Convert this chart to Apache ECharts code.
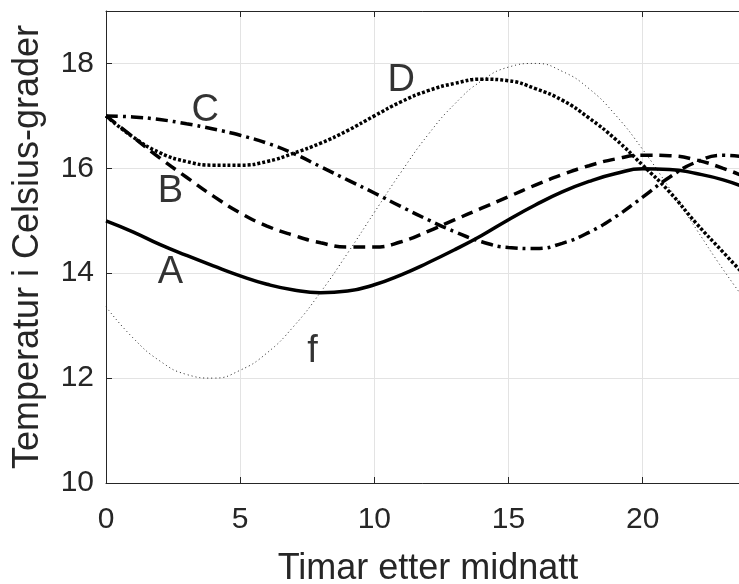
<!DOCTYPE html>
<html>
<head>
<meta charset="utf-8">
<script src="https://cdn.jsdelivr.net/npm/echarts@6/dist/echarts.min.js"></script>
<style>
html, body { margin: 0; padding: 0; background: #fff; }
#chart { width: 739px; height: 584px; }
</style>
</head>
<body>
<div id="chart"></div>
<script>
// timar etter midnatt
var timar = [0, 1, 2, 3, 4, 5, 6, 7, 8, 9, 10, 11, 12, 13, 14, 15, 16, 17, 18, 19, 20, 21, 22, 23, 24];
// temperaturkurver avlesne fraa figuren
var kurveA = [15.0, 14.79, 14.55, 14.34, 14.14, 13.95, 13.79, 13.68, 13.63, 13.66, 13.78, 13.97, 14.2, 14.45, 14.72, 15.02, 15.3, 15.55, 15.75, 15.9, 15.99, 15.98, 15.9, 15.78, 15.6];
var kurveB = [17.0, 16.6, 16.2, 15.83, 15.47, 15.15, 14.9, 14.72, 14.58, 14.5, 14.5, 14.6, 14.8, 15.02, 15.24, 15.46, 15.68, 15.88, 16.05, 16.18, 16.25, 16.24, 16.16, 16.0, 15.8];
var kurveC = [17.0, 16.98, 16.93, 16.85, 16.75, 16.63, 16.48, 16.28, 16.03, 15.78, 15.53, 15.27, 15.02, 14.79, 14.6, 14.49, 14.47, 14.57, 14.78, 15.08, 15.45, 15.83, 16.12, 16.25, 16.2];
var kurveD = [17.0, 16.6, 16.3, 16.13, 16.06, 16.06, 16.13, 16.29, 16.48, 16.72, 17.0, 17.27, 17.48, 17.62, 17.7, 17.67, 17.52, 17.3, 16.96, 16.55, 16.06, 15.55, 14.95, 14.4, 13.85];
var kurveF = [13.36, 12.77, 12.33, 12.07, 12.0, 12.15, 12.48, 12.99, 13.64, 14.38, 15.16, 15.93, 16.64, 17.23, 17.67, 17.93, 18.0, 17.85, 17.52, 17.01, 16.36, 15.62, 14.84, 14.07, 13.36];
// etiketter ved kurvene
var etiketter = [
  {name: 'A', value: [2.4, 14.02]},
  {name: 'B', value: [2.4, 15.55]},
  {name: 'C', value: [3.7, 17.1]},
  {name: 'D', value: [11.0, 17.68]},
  {name: 'f', value: [7.7, 12.5]}
];

var par = function (ys) {
  var res = [];
  for (var i = 0; i < timar.length; i++) {
    res.push([timar[i], ys[i]]);
  }
  return res;
};

var fnt = '"Liberation Sans", Arial, Helvetica, sans-serif';
var axisFarge = '#262626';

var myChart = echarts.init(document.getElementById('chart'));
var option = {
  backgroundColor: '#fff',
  animation: false,
  grid: { left: 106, width: 644, top: 11, bottom: 101, containLabel: false, outerBoundsMode: 'none' },
  xAxis: [
    {
      type: 'value',
      min: 0,
      max: 24,
      interval: 5,
      name: 'Timar etter midnatt',
      nameLocation: 'middle',
      nameGap: 68,
      nameTextStyle: { fontFamily: fnt, fontSize: 36, color: axisFarge },
      axisLine: { show: true, onZero: false, lineStyle: { color: axisFarge, width: 1 } },
      axisTick: { show: true, inside: true, length: 6, lineStyle: { color: axisFarge } },
      axisLabel: { fontFamily: fnt, fontSize: 30, color: axisFarge, margin: 22, showMaxLabel: false },
      splitLine: { show: true, lineStyle: { color: '#e3e3e3', width: 1 } }
    },
    {
      type: 'value',
      position: 'top',
      min: 0,
      max: 24,
      interval: 5,
      axisLine: { show: true, onZero: false, lineStyle: { color: axisFarge, width: 1 } },
      axisTick: { show: true, inside: true, length: 6, lineStyle: { color: axisFarge } },
      axisLabel: { show: false },
      splitLine: { show: false }
    }
  ],
  yAxis: {
    type: 'value',
    min: 10,
    max: 19,
    interval: 2,
    name: 'Temperatur i Celsius-grader',
    nameLocation: 'middle',
    nameGap: 60,
    nameTextStyle: { fontFamily: fnt, fontSize: 36, color: axisFarge },
    axisLine: { show: true, onZero: false, lineStyle: { color: axisFarge, width: 1 } },
    axisTick: { show: true, inside: true, length: 6, lineStyle: { color: axisFarge } },
    axisLabel: { fontFamily: fnt, fontSize: 30, color: axisFarge, margin: 12, showMaxLabel: false },
    splitLine: { show: true, lineStyle: { color: '#e3e3e3', width: 1 } }
  },
  series: [
    {
      name: 'f', type: 'line', smooth: true, symbol: 'none', clip: true,
      lineStyle: { color: '#222', width: 1, type: [1, 3] },
      data: par(kurveF)
    },
    {
      name: 'A', type: 'line', smooth: true, symbol: 'none', clip: true,
      lineStyle: { color: '#000', width: 3.5, type: 'solid' },
      data: par(kurveA)
    },
    {
      name: 'B', type: 'line', smooth: true, symbol: 'none', clip: true,
      lineStyle: { color: '#000', width: 3.5, type: [12, 7] },
      data: par(kurveB)
    },
    {
      name: 'C', type: 'line', smooth: true, symbol: 'none', clip: true,
      lineStyle: { color: '#000', width: 3.5, type: [12, 5, 3, 5] },
      data: par(kurveC)
    },
    {
      name: 'D', type: 'line', smooth: true, symbol: 'none', clip: true,
      lineStyle: { color: '#000', width: 3.5, type: [3, 2] },
      data: par(kurveD)
    },
    {
      name: 'etiketter', type: 'scatter', symbolSize: 0,
      label: {
        show: true, position: 'inside', formatter: '{b}',
        fontFamily: fnt, fontSize: 38, color: '#000'
      },
      data: etiketter
    }
  ]
};
myChart.setOption(option);

window.addEventListener('resize', function () {
  myChart.resize();
});
</script>
</body>
</html>
